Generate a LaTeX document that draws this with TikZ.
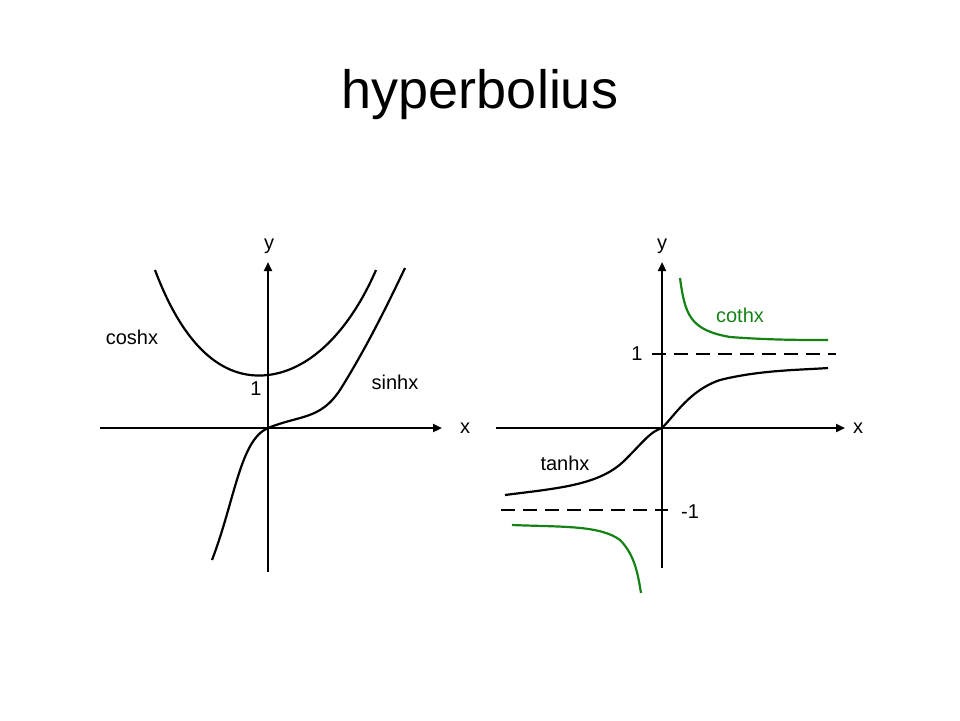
\documentclass[tikz,border=0pt]{standalone}
\usepackage{fontspec}
\setmainfont{Liberation Sans}
\usetikzlibrary{arrows.meta}
\definecolor{cg}{RGB}{20,130,20}
\begin{document}
\begin{tikzpicture}[x=1pt,y=-1pt,
  ax/.style={line width=2.2pt,-{Triangle[length=9pt,width=8pt]}},
  cv/.style={line width=2.2pt},
  gc/.style={line width=2.2pt,draw=cg},
  dsh/.style={line width=2.2pt,dash pattern=on 14pt off 8pt},
  lab/.style={font=\fontsize{20}{24}\selectfont}]
\useasboundingbox (0,0) rectangle (960,720);
\node (title) at (480,95) {\fontsize{54}{60}\selectfont hyperbolius};
% left
\coordinate (xl0) at (100,428); \coordinate (xl1) at (442,428);
\coordinate (yl0) at (268,572); \coordinate (yl1) at (268,262);
\draw[ax] (xl0) -- (xl1);
\draw[ax] (yl0) -- (yl1);
\draw[cv] (155,270) .. controls (185,350) and (225,380) .. (268,375) .. controls (311,370) and (350,330) .. (376,270);
\draw[cv] (212,560) .. controls (235,500) and (240,440) .. (268,428) .. controls (300,415) and (320,420) .. (340,390) .. controls (365,350) and (385,310) .. (405,268);
\node[lab] (cosh) at (132,337) {coshx};
\node[lab] (sinh) at (395,382) {sinhx};
\node[lab] (one) at (256,389) {1};
\node[lab] (xa) at (465,428) {x};
\node[lab] (ya) at (269,246) {y};
% right
\coordinate (xr0) at (496,428); \coordinate (xr1) at (845,428);
\coordinate (yr0) at (662,568); \coordinate (yr1) at (662,262);
\draw[ax] (xr0) -- (xr1);
\draw[ax] (yr0) -- (yr1);
\draw[dsh] (652,354) -- (836,354);
\draw[dsh] (501,510) -- (668,510);
\draw[cv] (505,495) .. controls (560,488) and (600,485) .. (625,460) .. controls (645,440) and (650,432) .. (662,428) .. controls (675,415) and (690,390) .. (720,380) .. controls (760,370) and (800,370) .. (828,368);
\draw[gc] (680,278) .. controls (685,315) and (690,330) .. (730,337) .. controls (770,340) and (800,340) .. (828,340);
\draw[gc] (512,525) .. controls (560,527) and (600,525) .. (620,540) .. controls (635,555) and (638,575) .. (641,593);
\node[lab,text=cg] (coth) at (740,315) {cothx};
\node[lab] (tanh) at (565,463) {tanhx};
\node[lab] (p1) at (637,354) {1};
\node[lab] (m1) at (690,512) {-1};
\node[lab] (xb) at (858,428) {x};
\node[lab] (yb) at (662,246) {y};
\end{tikzpicture}
\end{document}
